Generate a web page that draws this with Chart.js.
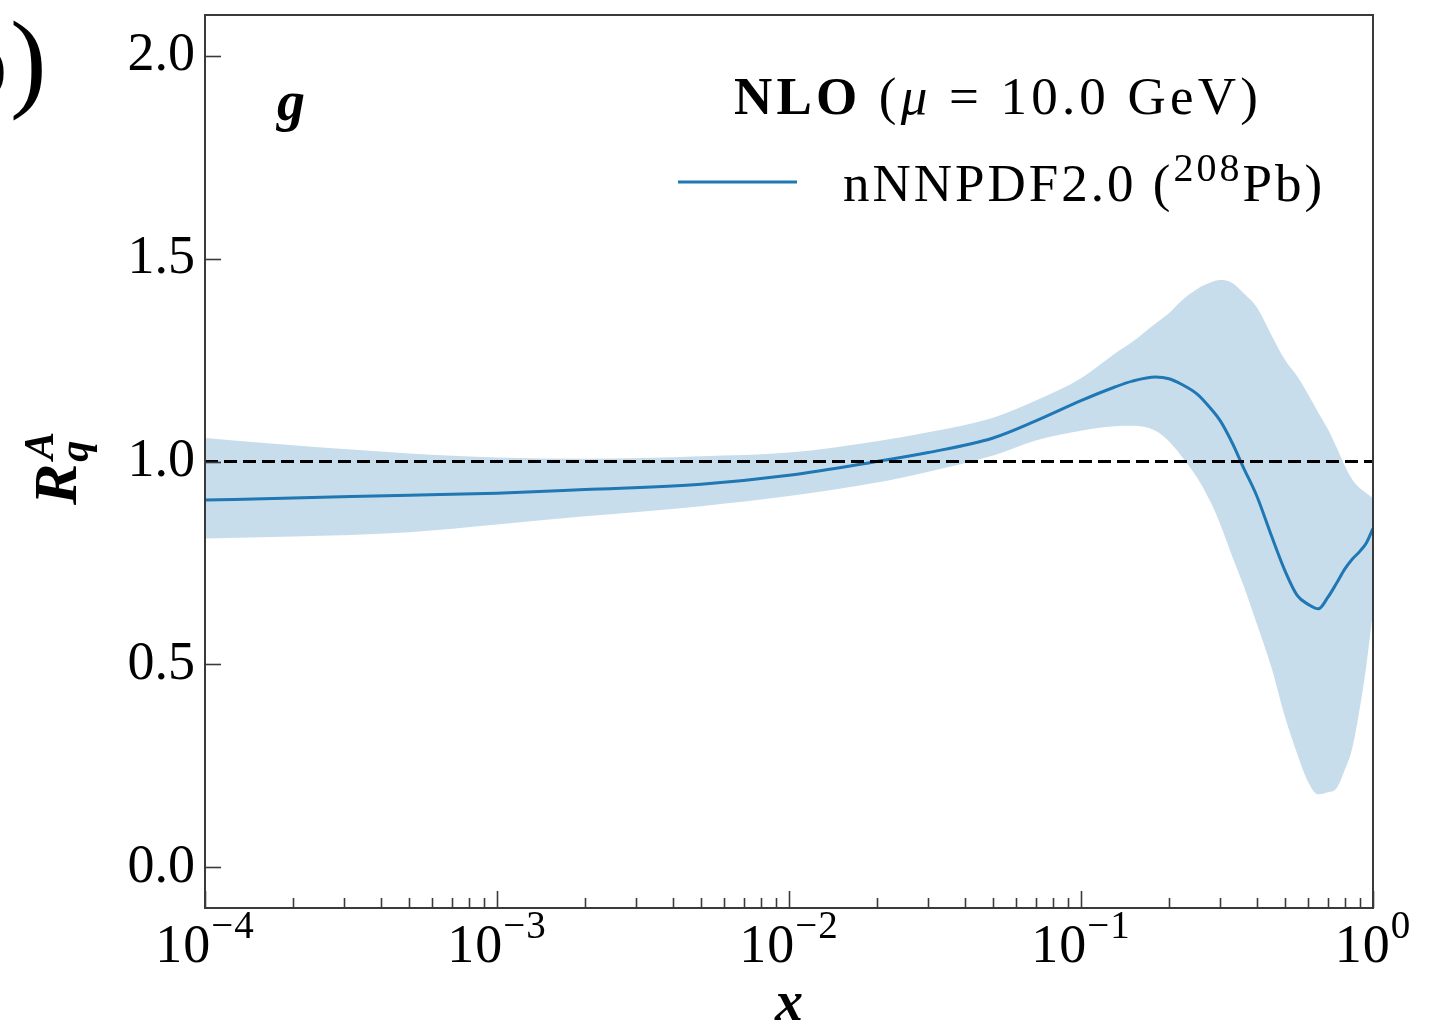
<!DOCTYPE html>
<html>
<head>
<meta charset="utf-8">
<title>nNNPDF2.0 gluon ratio</title>
<script src="https://cdn.jsdelivr.net/npm/chart.js@4.4.1/dist/chart.umd.min.js"></script>
<style>
  html, body { margin: 0; padding: 0; background: #fff; }
  #wrap { width: 1433px; height: 1025px; }
</style>
</head>
<body>
<div id="wrap"><canvas id="chart" width="1433" height="1025"></canvas></div>
<script>
// ─── Data ─────────────────────────────────────────────────────────────────────
const xGrid = [1e-4, 2e-4, 5e-4, 1e-3, 2e-3, 5e-3, 1e-2, 2e-2, 3e-2, 5e-2, 0.07, 0.1,
  0.13, 0.15, 0.18, 0.2, 0.22, 0.25, 0.28, 0.3, 0.33, 0.36, 0.4, 0.45, 0.5, 0.55,
  0.6, 0.65, 0.7, 0.75, 0.8, 0.85, 0.9, 0.95, 1.0];

const central = [0.905, 0.910, 0.917, 0.922, 0.931, 0.944, 0.966, 1.000, 1.022, 1.058, 1.100, 1.150,
  1.183, 1.198, 1.208, 1.204, 1.191, 1.166, 1.128, 1.100, 1.045, 0.985, 0.915, 0.815, 0.730, 0.670,
  0.648, 0.637, 0.665, 0.700, 0.735, 0.760, 0.778, 0.800, 0.835];

const upper = [1.058, 1.040, 1.020, 1.010, 1.007, 1.013, 1.022, 1.050, 1.072, 1.108, 1.150, 1.205,
  1.265, 1.295, 1.340, 1.365, 1.395, 1.425, 1.442, 1.447, 1.440, 1.415, 1.380, 1.310, 1.250, 1.210,
  1.165, 1.120, 1.080, 1.035, 0.990, 0.955, 0.935, 0.922, 0.910];

const lower = [0.810, 0.815, 0.826, 0.845, 0.865, 0.890, 0.915, 0.948, 0.975, 1.015, 1.052, 1.076,
  1.087, 1.088, 1.076, 1.050, 1.015, 0.960, 0.895, 0.845, 0.765, 0.695, 0.600, 0.490, 0.370, 0.280,
  0.210, 0.180, 0.185, 0.195, 0.240, 0.295, 0.390, 0.500, 0.630];

const refX = [1e-4, 1];
const refY = [1, 1];

const yTicks = [0, 0.5, 1.0, 1.5, 2.0];
const xDecades = [-4, -3, -2, -1, 0];

const SERIF = '"Liberation Serif", "DejaVu Serif", serif';
const C0 = '#1f77b4';

const pts = (xs, ys) => xs.map((x, i) => ({ x, y: ys[i] }));

// ─── Decorations: frame, inward ticks, math-style labels, legend ──────────────
function drawRuns(ctx, runs, x, y, align, spacing) {
  ctx.letterSpacing = (spacing || 0) + 'px';
  let total = 0;
  runs.forEach(r => { ctx.font = r.font; r.w = ctx.measureText(r.text).width; total += r.w; });
  let cx = align === 'center' ? x - total / 2 : x;
  ctx.textAlign = 'left';
  ctx.textBaseline = 'alphabetic';
  runs.forEach(r => {
    ctx.font = r.font;
    ctx.fillText(r.text, cx, y + (r.dy || 0));
    cx += r.w;
  });
  ctx.letterSpacing = '0px';
}

const decor = {
  id: 'decor',
  afterDraw(chart) {
    const { ctx, chartArea: a, scales: { x, y } } = chart;
    ctx.save();

    // frame
    ctx.strokeStyle = '#3a3a3a';
    ctx.lineWidth = 2;
    ctx.strokeRect(a.left, a.top, a.right - a.left, a.bottom - a.top);

    // y ticks (inward, left only)
    ctx.lineWidth = 1.6;
    yTicks.forEach(v => {
      const py = Math.round(y.getPixelForValue(v)) + 0.5;
      ctx.beginPath(); ctx.moveTo(a.left, py); ctx.lineTo(a.left + 16, py); ctx.stroke();
    });

    // x ticks (inward, major + minor)
    xDecades.forEach(e => {
      const base = Math.pow(10, e);
      const px = Math.round(x.getPixelForValue(base)) + 0.5;
      ctx.beginPath(); ctx.moveTo(px, a.bottom); ctx.lineTo(px, a.bottom - 17); ctx.stroke();
      if (e < 0) {
        for (let k = 2; k <= 9; k++) {
          const mx = Math.round(x.getPixelForValue(k * base)) + 0.5;
          ctx.beginPath(); ctx.moveTo(mx, a.bottom); ctx.lineTo(mx, a.bottom - 10); ctx.stroke();
        }
      }
    });

    ctx.fillStyle = '#000';

    // x tick labels 10^e
    xDecades.forEach(e => {
      const px = x.getPixelForValue(Math.pow(10, e));
      const sup = e < 0 ? '\u2212' + Math.abs(e) : String(e);
      drawRuns(ctx, [
        { text: '10', font: `54px ${SERIF}` },
        { text: sup, font: `39px ${SERIF}`, dy: -24 },
      ], px, 962, 'center', 1);
    });

    // y axis title R_q^A (rotated)
    ctx.save();
    ctx.translate(76, 505);
    ctx.rotate(-Math.PI / 2);
    ctx.textAlign = 'left';
    ctx.textBaseline = 'alphabetic';
    ctx.font = `italic bold 62px ${SERIF}`;
    ctx.fillText('R', 0, 0);
    const rw = ctx.measureText('R').width;
    ctx.font = `italic bold 42px ${SERIF}`;
    ctx.fillText('A', rw + 4, -23);
    ctx.fillText('q', rw + 2, 12);
    ctx.restore();

    // parton label
    ctx.font = `italic bold 56px ${SERIF}`;
    ctx.textAlign = 'left';
    ctx.fillText('g', 277, 120);

    // legend header + entry
    drawRuns(ctx, [
      { text: 'NLO', font: `bold 53px ${SERIF}` },
      { text: ' (', font: `53px ${SERIF}` },
      { text: '\u03bc', font: `italic 53px ${SERIF}` },
      { text: ' = 10.0 GeV)', font: `53px ${SERIF}` },
    ], 998, 114, 'center', 4.2);

    ctx.strokeStyle = C0;
    ctx.lineWidth = 3;
    ctx.beginPath(); ctx.moveTo(678, 182); ctx.lineTo(797, 182); ctx.stroke();
    drawRuns(ctx, [
      { text: 'nNNPDF2.0 (', font: `53px ${SERIF}` },
      { text: '208', font: `40px ${SERIF}`, dy: -20 },
      { text: 'Pb)', font: `53px ${SERIF}` },
    ], 843, 201, 'left', 3);

    // clipped fragment from the neighbouring panel
    ctx.font = `110px ${SERIF}`;
    ctx.textAlign = 'left';
    ctx.fillText(')', 10, 97);
    ctx.font = `54px ${SERIF}`;
    ctx.textAlign = 'right';
    ctx.fillText(')', 6, 86);

    ctx.restore();
  },
};

function fixBox(w, h) {
  return scale => {
    if (w !== null) scale.width = w;
    if (h !== null) scale.height = h;
    scale.paddingTop = 0; scale.paddingBottom = 0;
    scale.paddingLeft = 0; scale.paddingRight = 0;
  };
}

// ─── Chart ────────────────────────────────────────────────────────────────────
new Chart(document.getElementById('chart').getContext('2d'), {
  type: 'line',
  data: {
    datasets: [
      {
        label: 'upper',
        data: pts(xGrid, upper),
        borderWidth: 0,
        borderColor: 'rgba(0,0,0,0)',
        backgroundColor: 'rgba(31,119,180,0.25)',
        pointRadius: 0,
        fill: '+1',
        cubicInterpolationMode: 'monotone',
        order: 3,
      },
      {
        label: 'lower',
        data: pts(xGrid, lower),
        borderWidth: 0,
        borderColor: 'rgba(0,0,0,0)',
        pointRadius: 0,
        fill: false,
        cubicInterpolationMode: 'monotone',
        order: 4,
      },
      {
        label: 'nNNPDF2.0 (208Pb)',
        data: pts(xGrid, central),
        borderColor: C0,
        borderWidth: 3,
        pointRadius: 0,
        fill: false,
        cubicInterpolationMode: 'monotone',
        order: 1,
      },
      {
        label: 'unity',
        data: pts(refX, refY),
        borderColor: '#000',
        borderWidth: 3,
        borderDash: [13, 6],
        pointRadius: 0,
        fill: false,
        order: 0,
      },
    ],
  },
  options: {
    responsive: false,
    animation: false,
    devicePixelRatio: 1,
    layout: { padding: { top: 15, right: 60, left: 0, bottom: 0 } },
    plugins: { legend: { display: false }, tooltip: { enabled: false } },
    scales: {
      x: {
        type: 'logarithmic',
        position: 'bottom',
        min: 1e-4,
        max: 1,
        grid: { display: false, drawTicks: false },
        border: { display: false },
        ticks: { display: false },
        title: {
          display: true,
          text: 'x',
          color: '#000',
          font: { family: SERIF, size: 56, style: 'italic', weight: 'bold' },
          padding: { top: 0, bottom: -14 },
        },
        afterFit: fixBox(null, 117),
      },
      y: {
        type: 'linear',
        min: -0.1,
        max: 2.1,
        grid: { display: false, drawTicks: false },
        border: { display: false },
        afterBuildTicks: scale => { scale.ticks = yTicks.map(v => ({ value: v })); },
        ticks: {
          color: '#000',
          padding: 10,
          font: { family: SERIF, size: 54 },
          callback: v => v.toFixed(1),
        },
        afterFit: fixBox(205, null),
      },
    },
  },
  plugins: [decor],
});
</script>
</body>
</html>
